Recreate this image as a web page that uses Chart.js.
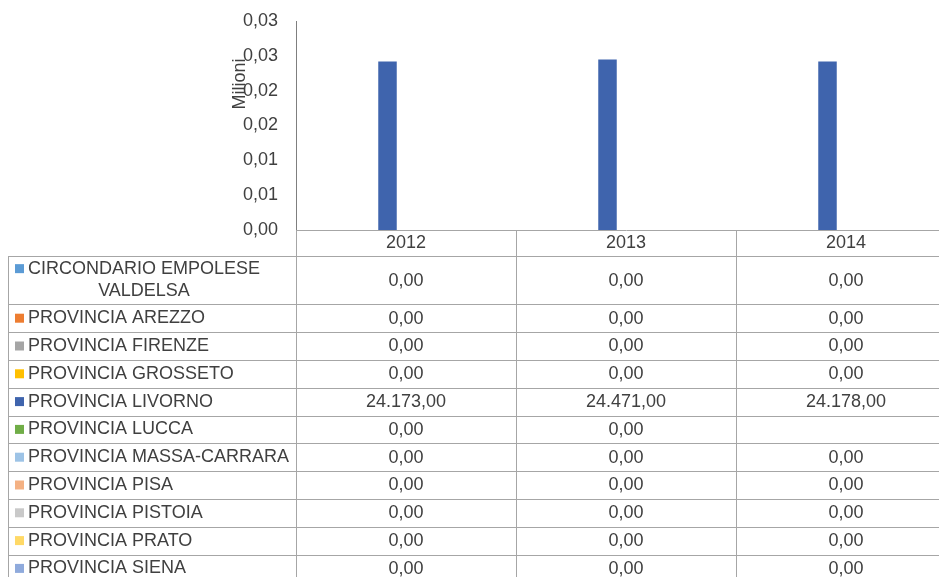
<!DOCTYPE html>
<html>
<head>
<meta charset="utf-8">
<script src="https://cdn.jsdelivr.net/npm/chart.js@4"></script>
<style>
  html, body { margin: 0; padding: 0; background: #fff; overflow: hidden; }
  #wrap { position: relative; width: 956px; height: 577px; }
</style>
</head>
<body>
<div id="wrap"><canvas id="c"></canvas></div>
<script>
// ---- data ----
const categories = ['2012', '2013', '2014'];
const seriesNames = [
  'CIRCONDARIO EMPOLESE VALDELSA',
  'PROVINCIA AREZZO',
  'PROVINCIA FIRENZE',
  'PROVINCIA GROSSETO',
  'PROVINCIA LIVORNO',
  'PROVINCIA LUCCA',
  'PROVINCIA MASSA-CARRARA',
  'PROVINCIA PISA',
  'PROVINCIA PISTOIA',
  'PROVINCIA PRATO',
  'PROVINCIA SIENA'
];
const empolese = [0, 0, 0];
const arezzo = [0, 0, 0];
const firenze = [0, 0, 0];
const grosseto = [0, 0, 0];
const livorno = [24173, 24471, 24178];
const lucca = [0, 0, null];
const massaCarrara = [0, 0, 0];
const pisa = [0, 0, 0];
const pistoia = [0, 0, 0];
const prato = [0, 0, 0];
const siena = [0, 0, 0];
const yTickLabels = ['0,00', '0,01', '0,01', '0,02', '0,02', '0,03', '0,03'];
const axisUnit = 'Milioni';

// ---- styles ----
const seriesColors = ['#5B9BD5', '#ED7D31', '#A5A5A5', '#FFC000', '#3F64AD', '#70AD47',
                      '#9DC3E6', '#F4B183', '#C9C9C9', '#FFD966', '#8FAADC'];
const allSeries = [empolese, arezzo, firenze, grosseto, livorno, lucca,
                   massaCarrara, pisa, pistoia, prato, siena];
const FONT = '"Liberation Sans", Arial, sans-serif';
const TEXT = '#404040';
const LINE = '#a6a6a6';

function fmt(v) {
  if (v === null || v === undefined) return '';
  const s = v.toFixed(2);
  const parts = s.split('.');
  return parts[0].replace(/\B(?=(\d{3})+(?!\d))/g, '.') + ',' + parts[1];
}

const tablePlugin = {
  id: 'dataTable',
  afterDraw(chart) {
    const ctx = chart.ctx;
    const xs = chart.scales.x;
    const area = chart.chartArea;
    const W = chart.width;
    const H = chart.height;
    const left = 8;
    const colLeft = area.left;
    const step = xs.getPixelForValue(1) - xs.getPixelForValue(0);
    const headerBottom = 256;
    const firstH = 48.3;
    const rowH = 27.8;

    ctx.save();
    ctx.font = '18px ' + FONT;
    ctx.fillStyle = TEXT;
    ctx.textBaseline = 'middle';

    // header labels
    ctx.textAlign = 'center';
    categories.forEach((c, i) => {
      ctx.fillText(c, xs.getPixelForValue(i), 243);
    });

    // row boundaries
    const rows = [];
    let y = headerBottom;
    seriesNames.forEach((n, i) => {
      const h = i === 0 ? firstH : rowH;
      rows.push([y, y + h]);
      y += h;
    });

    // lines
    ctx.strokeStyle = LINE;
    ctx.lineWidth = 1;
    ctx.beginPath();
    ctx.moveTo(left, Math.round(headerBottom) + 0.5);
    ctx.lineTo(W, Math.round(headerBottom) + 0.5);
    rows.forEach(r => {
      const yy = Math.round(r[1]) + 0.5;
      ctx.moveTo(left, yy); ctx.lineTo(W, yy);
    });
    ctx.moveTo(left + 0.5, headerBottom); ctx.lineTo(left + 0.5, H);
    ctx.moveTo(Math.round(colLeft) + 0.5, area.bottom); ctx.lineTo(Math.round(colLeft) + 0.5, H);
    for (let i = 0; i < categories.length; i++) {
      const xr = Math.round(xs.getPixelForValue(i) + step / 2) + 0.5;
      ctx.moveTo(xr, area.bottom); ctx.lineTo(xr, H);
    }
    ctx.stroke();

    // row contents
    seriesNames.forEach((name, i) => {
      const [t, b] = rows[i];
      const cy = (t + b) / 2;
      ctx.textAlign = 'left';
      if (i === 0) {
        const l1 = 'CIRCONDARIO EMPOLESE';
        const l2 = 'VALDELSA';
        const w1 = ctx.measureText(l1).width;
        ctx.fillStyle = seriesColors[i];
        ctx.fillRect(15, cy - 11.5 - 4.5, 9, 9);
        ctx.fillStyle = TEXT;
        ctx.fillText(l1, 28, cy - 11.5);
        ctx.textAlign = 'center';
        ctx.fillText(l2, 28 + w1 / 2, cy + 11);
      } else {
        ctx.fillStyle = seriesColors[i];
        ctx.fillRect(15, cy - 4.5, 9, 9);
        ctx.fillStyle = TEXT;
        ctx.fillText(name, 28, cy);
      }
      ctx.textAlign = 'center';
      allSeries[i].forEach((v, j) => {
        ctx.fillText(fmt(v), xs.getPixelForValue(j), cy + 0.5);
      });
    });

    // axis unit label
    ctx.translate(240, 84);
    ctx.rotate(-Math.PI / 2);
    ctx.textAlign = 'center';
    ctx.fillText(axisUnit, 0, 0);
    ctx.restore();
  }
};

new Chart(document.getElementById('c'), {
  type: 'bar',
  data: {
    labels: categories,
    datasets: allSeries.map((arr, i) => ({
      label: seriesNames[i],
      data: arr.map(v => (v === null ? null : v / 1e6)),
      backgroundColor: seriesColors[i],
      borderWidth: 0,
      categoryPercentage: 0.925,
      barPercentage: 1.0
    }))
  },
  options: {
    responsive: true,
    maintainAspectRatio: false,
    devicePixelRatio: 1,
    animation: false,
    layout: { padding: { left: 0, right: 0, top: 21, bottom: 347 } },
    plugins: { legend: { display: false }, tooltip: { enabled: false }, title: { display: false } },
    scales: {
      x: {
        grid: { display: false, drawTicks: false },
        border: { display: true, color: LINE },
        ticks: { display: false },
        afterFit(s) { s.height = 0; s.paddingLeft = 0; s.paddingRight = 0; }
      },
      y: {
        min: 0,
        max: 0.03,
        grid: { display: false, drawTicks: false },
        border: { display: true, color: '#7f7f7f' },
        ticks: {
          stepSize: 0.005,
          padding: 18,
          color: TEXT,
          font: { family: FONT, size: 18 },
          callback: (v, i) => yTickLabels[i]
        },
        afterFit(s) { s.width = 296; s.paddingTop = 0; s.paddingBottom = 0; }
      }
    }
  },
  plugins: [tablePlugin]
});
</script>
</body>
</html>
